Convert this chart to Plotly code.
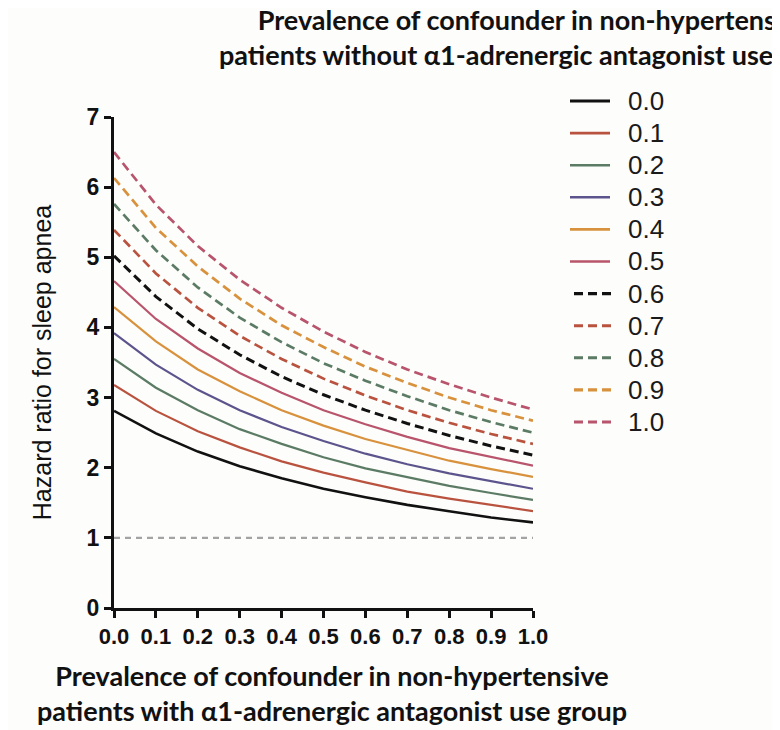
import plotly.graph_objects as go

x_vals = [0.0, 0.1, 0.2, 0.3, 0.4, 0.5, 0.6, 0.7, 0.8, 0.9, 1.0]
series_names = ["0.0", "0.1", "0.2", "0.3", "0.4", "0.5", "0.6", "0.7", "0.8", "0.9", "1.0"]

hr_00 = [2.81, 2.49, 2.23, 2.02, 1.85, 1.70, 1.58, 1.47, 1.38, 1.29, 1.22]
hr_01 = [3.18, 2.81, 2.52, 2.29, 2.09, 1.93, 1.79, 1.66, 1.56, 1.47, 1.38]
hr_02 = [3.55, 3.14, 2.82, 2.55, 2.34, 2.15, 1.99, 1.86, 1.74, 1.64, 1.54]
hr_03 = [3.92, 3.47, 3.11, 2.82, 2.58, 2.38, 2.20, 2.05, 1.92, 1.81, 1.70]
hr_04 = [4.29, 3.80, 3.40, 3.09, 2.82, 2.60, 2.41, 2.25, 2.10, 1.98, 1.87]
hr_05 = [4.66, 4.12, 3.70, 3.35, 3.07, 2.82, 2.62, 2.44, 2.28, 2.15, 2.03]
hr_06 = [5.02, 4.44, 3.98, 3.61, 3.30, 3.04, 2.82, 2.63, 2.46, 2.31, 2.18]
hr_07 = [5.39, 4.77, 4.28, 3.88, 3.55, 3.27, 3.03, 2.82, 2.64, 2.48, 2.34]
hr_08 = [5.76, 5.10, 4.57, 4.14, 3.79, 3.49, 3.24, 3.02, 2.82, 2.65, 2.50]
hr_09 = [6.13, 5.42, 4.87, 4.41, 4.03, 3.72, 3.44, 3.21, 3.00, 2.82, 2.67]
hr_10 = [6.50, 5.75, 5.16, 4.68, 4.28, 3.94, 3.65, 3.40, 3.19, 3.00, 2.83]
all_series = [hr_00, hr_01, hr_02, hr_03, hr_04, hr_05, hr_06, hr_07, hr_08, hr_09, hr_10]

reference_hr = [1.0, 1.0]
reference_x = [0.0, 1.0]

y_ticks = [0, 1, 2, 3, 4, 5, 6, 7]
x_ticks = x_vals
x_tick_labels = ["0.0", "0.1", "0.2", "0.3", "0.4", "0.5", "0.6", "0.7", "0.8", "0.9", "1.0"]

BLACK = "#111111"
RED = "#b9533f"
GREEN = "#5b7b64"
PURPLE = "#5c548c"
ORANGE = "#d8913c"
ROSE = "#b8546b"
colors = [BLACK, RED, GREEN, PURPLE, ORANGE, ROSE, BLACK, RED, GREEN, ORANGE, ROSE]
dashes = ["solid"] * 6 + ["9px,5px"] * 5
widths = [2.6, 2.2, 2.2, 2.2, 2.2, 2.2, 3.0, 2.7, 2.7, 2.7, 2.7]

# layout geometry (figure pixels)
ML, MT, PW, PH = 106, 109, 419, 491
FIG_W, FIG_H = 780, 730


def px_x(fx):
    return (fx - ML) / PW


def px_y(fy):
    return (MT + PH - fy) / PH


fig = go.Figure()

fig.add_trace(go.Scatter(
    x=reference_x, y=reference_hr, mode="lines",
    line=dict(color="#a3a3a3", width=2.2, dash="6px,5px"),
    showlegend=False, hoverinfo="skip",
))

for name, ys, c, d, w in zip(series_names, all_series, colors, dashes, widths):
    fig.add_trace(go.Scatter(
        x=x_vals, y=ys, mode="lines", name=name,
        line=dict(color=c, width=w, dash=d),
        showlegend=False,
    ))

# legend drawn as shapes + labels
LEG_X0, LEG_X1, LEG_TX = 562, 602, 618
LEG_Y0, LEG_DY = 93, 32.1
for i, (name, c, d, w) in enumerate(zip(series_names, colors, dashes, widths)):
    fy = LEG_Y0 + i * LEG_DY
    fig.add_shape(
        type="line", xref="paper", yref="paper",
        x0=px_x(LEG_X0 + (4 if d != "solid" else 0)), x1=px_x(LEG_X1 + (4 if d != "solid" else 0)),
        y0=px_y(fy), y1=px_y(fy),
        line=dict(color=c, width=w + 0.4, dash=d),
    )
    fig.add_annotation(
        xref="paper", yref="paper", x=px_x(LEG_TX), y=px_y(fy),
        text=name, showarrow=False, xanchor="left", yanchor="middle",
        font=dict(size=26, color="#1a1a1a"),
    )

fig.update_layout(
    width=FIG_W, height=FIG_H,
    paper_bgcolor="#fdfdfb", plot_bgcolor="#fdfdfb",
    margin=dict(l=ML, r=FIG_W - ML - PW, t=MT, b=FIG_H - MT - PH),
    font=dict(family="Liberation Sans, Arial, sans-serif", color="#111111"),
    showlegend=False,
    xaxis=dict(
        range=[0, 1], tickvals=x_ticks, ticktext=x_tick_labels,
        showgrid=False, zeroline=False,
        showline=True, linecolor="#111111", linewidth=3,
        ticks="outside", ticklen=7, tickwidth=3, tickcolor="#111111",
        tickfont=dict(size=22, weight="bold", color="#111111"),
    ),
    yaxis=dict(
        range=[0, 7], tickvals=y_ticks,
        showgrid=False, zeroline=False,
        showline=True, linecolor="#111111", linewidth=3,
        ticks="outside", ticklen=7, tickwidth=3, tickcolor="#111111",
        tickfont=dict(size=23, weight="bold", color="#111111"),
        title=dict(text="Hazard ratio for sleep apnea", font=dict(size=25, color="#111111"), standoff=28),
    ),
)

fig.add_annotation(
    xref="paper", yref="paper", x=px_x(324), y=px_y(685),
    text="Prevalence of confounder in non-hypertensive<br>patients with α1-adrenergic antagonist use group",
    showarrow=False, xanchor="center", yanchor="middle",
    font=dict(family="Lato, sans-serif", size=27, weight="bold", color="#111111"),
    align="center",
)
fig.add_annotation(
    xref="paper", yref="paper", x=px_x(526.5), y=px_y(29),
    text="Prevalence of confounder in non-hypertensive<br>patients without α1-adrenergic antagonist use group",
    showarrow=False, xanchor="center", yanchor="middle",
    font=dict(family="Lato, sans-serif", size=27, weight="bold", color="#111111"),
    align="center",
)

fig.write_html("out.html")
